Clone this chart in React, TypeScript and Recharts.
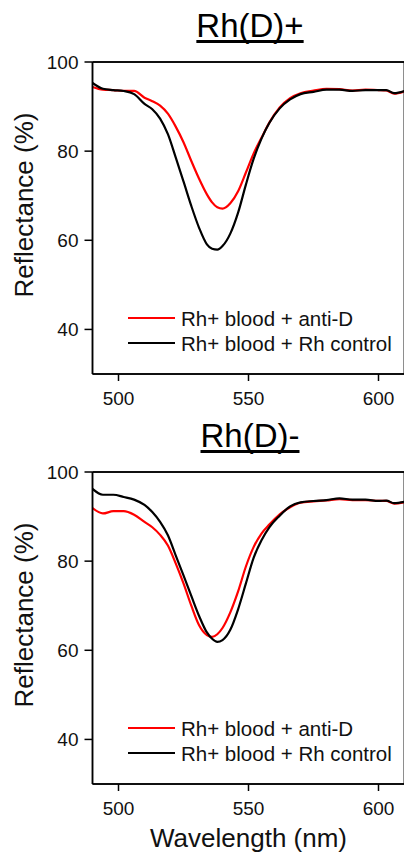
import React from "react"
import { LineChart, Line, XAxis, YAxis, Legend } from "recharts"

const FONT = '"Liberation Sans", Arial, sans-serif'

const wavelengths = [
  490, 494, 498, 502, 506, 510, 513, 516, 519, 522, 525, 528, 531, 534, 536,
  538, 540, 543, 546, 549, 552, 555, 558, 562, 566, 570, 575, 580, 585, 590,
  595, 600, 603, 606, 610,
]

// Rh(D)+ panel
const posAntiD = [
  94.4, 93.8, 93.7, 93.5, 93.5, 92.0, 91.2, 90.2, 88.4, 85.5, 82.0, 77.8, 73.8,
  70.3, 68.5, 67.4, 67.1, 68.3, 71.0, 75.2, 79.5, 83.0, 86.4, 89.8, 91.9, 93.0,
  93.6, 94.0, 93.9, 93.6, 93.8, 93.7, 93.6, 92.9, 93.4,
]
const posControl = [
  95.3, 94.0, 93.7, 93.5, 92.8, 90.6, 89.4, 87.3, 83.8, 78.6, 73.2, 67.7, 62.8,
  59.1, 58.1, 57.9, 58.7, 61.5, 66.2, 72.5, 78.3, 82.8, 86.3, 89.6, 91.6, 92.8,
  93.3, 93.8, 93.8, 93.5, 93.7, 93.7, 93.7, 93.0, 93.5,
]

// Rh(D)- panel
const negAntiD = [
  91.9, 90.7, 91.2, 91.2, 90.4, 88.8, 87.6, 85.9, 83.5, 79.5, 75.0, 70.0, 65.6,
  63.4, 63.0, 63.6, 65.0, 68.5, 73.2, 78.8, 83.2, 86.2, 88.2, 90.5, 92.1, 93.1,
  93.4, 93.6, 93.9, 93.7, 93.7, 93.5, 93.5, 92.9, 93.2,
]
const negControl = [
  96.2, 94.9, 94.9, 94.4, 93.8, 92.6, 91.0, 88.8, 85.8, 81.3, 76.8, 72.2, 67.7,
  64.0, 62.6, 61.9, 62.3, 64.6, 69.2, 75.0, 80.8, 84.7, 87.6, 90.2, 92.3, 93.2,
  93.5, 93.7, 94.1, 93.8, 93.8, 93.5, 93.6, 93.0, 93.3,
]

const seriesNames = ["Rh+ blood + anti-D", "Rh+ blood + Rh control"]
const xMajorTicks = [500, 550, 600]
const xMinorTicks = [490, 500, 510, 520, 530, 540, 550, 560, 570, 580, 590, 600, 610]
const yMajorTicks = [40, 60, 80, 100]
const yMinorTicks = [30, 40, 50, 60, 70, 80, 90, 100]

const X_DOMAIN: [number, number] = [490, 610]
const Y_DOMAIN: [number, number] = [30, 100]
const THIN = 0.001 // axes of zero size are not drawn

function buildRows(antiD: number[], control: number[]) {
  return wavelengths.map((wl, i) => ({ wl, antiD: antiD[i], control: control[i] }))
}

function LegendBox({ payload }: any) {
  const items = [...(payload || [])].sort(
    (a: any, b: any) => seriesNames.indexOf(a.value) - seriesNames.indexOf(b.value)
  )
  return (
    <div style={{ fontFamily: FONT, fontSize: 20.5, color: "#111" }}>
      {items.map((p: any) => (
        <div key={p.value} style={{ display: "flex", alignItems: "center", height: 25 }}>
          <div style={{ width: 47, height: 2, background: p.color, marginRight: 6 }} />
          <span style={{ lineHeight: "25px", whiteSpace: "nowrap" }}>{p.value}</span>
        </div>
      ))}
    </div>
  )
}

const axisLine = { stroke: "#000", strokeWidth: 1.5 }
const tickText = { fill: "#111", fontSize: 19, fontFamily: FONT }

function Panel({
  title,
  antiD,
  control,
  top,
  height,
  showXLabel,
}: {
  title: string
  antiD: number[]
  control: number[]
  top: number
  height: number
  showXLabel: boolean
}) {
  const rows = buildRows(antiD, control)
  return (
    <div style={{ position: "absolute", left: 0, top, width: 410, height }}>
      <div
        style={{
          position: "absolute",
          left: 0,
          top: 9,
          width: 500,
          textAlign: "center",
          fontFamily: FONT,
          fontSize: 33,
          lineHeight: "33px",
          color: "#000",
          textDecoration: "underline",
          textDecorationThickness: "3px",
          textUnderlineOffset: "3px",
          textDecorationSkipInk: "none",
        }}
      >
        {title}
      </div>
      <LineChart
        width={410}
        height={height}
        data={rows}
        margin={{ top: 62, left: 92.5, right: 5.5, bottom: height - 374 }}
      >
        <XAxis
          xAxisId="xMinor"
          dataKey="wl"
          type="number"
          domain={X_DOMAIN}
          allowDataOverflow
          ticks={xMinorTicks}
          interval={0}
          height={THIN}
          tick={false}
          tickSize={4}
          axisLine={axisLine}
          tickLine={axisLine}
        />
        <XAxis
          xAxisId="x"
          dataKey="wl"
          type="number"
          domain={X_DOMAIN}
          allowDataOverflow
          ticks={xMajorTicks}
          interval={0}
          height={THIN}
          tickSize={7}
          tickMargin={11}
          tick={tickText}
          axisLine={axisLine}
          tickLine={axisLine}
          label={
            showXLabel
              ? {
                  content: () => (
                    <text
                      x={248.5}
                      y={437}
                      textAnchor="middle"
                      fontFamily={FONT}
                      fontSize={26}
                      fill="#111"
                    >
                      Wavelength (nm)
                    </text>
                  ),
                }
              : undefined
          }
        />
        <XAxis
          xAxisId="topMinor"
          orientation="top"
          mirror
          dataKey="wl"
          type="number"
          domain={X_DOMAIN}
          allowDataOverflow
          ticks={xMinorTicks}
          interval={0}
          height={THIN}
          tick={false}
          tickSize={5}
          axisLine={axisLine}
          tickLine={axisLine}
        />
        <XAxis
          xAxisId="top"
          orientation="top"
          mirror
          dataKey="wl"
          type="number"
          domain={X_DOMAIN}
          allowDataOverflow
          ticks={xMajorTicks}
          interval={0}
          height={THIN}
          tick={false}
          tickSize={8}
          axisLine={axisLine}
          tickLine={axisLine}
        />
        <YAxis
          yAxisId="yMinor"
          type="number"
          domain={Y_DOMAIN}
          allowDataOverflow
          ticks={yMinorTicks}
          interval={0}
          width={THIN}
          tick={false}
          tickSize={5}
          axisLine={axisLine}
          tickLine={axisLine}
        />
        <YAxis
          yAxisId="y"
          type="number"
          domain={Y_DOMAIN}
          allowDataOverflow
          ticks={yMajorTicks}
          interval={0}
          width={THIN}
          tickSize={8}
          tickMargin={6}
          tick={tickText}
          axisLine={axisLine}
          tickLine={axisLine}
          label={{
            content: () => (
              <text
                x={33}
                y={205}
                transform="rotate(-90 33 205)"
                textAnchor="middle"
                fontFamily={FONT}
                fontSize={26}
                fill="#111"
              >
                Reflectance (%)
              </text>
            ),
          }}
        />
        <YAxis
          yAxisId="rightMinor"
          orientation="right"
          mirror
          type="number"
          domain={Y_DOMAIN}
          allowDataOverflow
          ticks={yMinorTicks}
          interval={0}
          width={THIN}
          tick={false}
          tickSize={4}
          axisLine={axisLine}
          tickLine={axisLine}
        />
        <YAxis
          yAxisId="right"
          orientation="right"
          mirror
          type="number"
          domain={Y_DOMAIN}
          allowDataOverflow
          ticks={yMajorTicks}
          interval={0}
          width={THIN}
          tick={false}
          tickSize={7}
          axisLine={axisLine}
          tickLine={axisLine}
        />
        <Line
          xAxisId="x"
          yAxisId="y"
          dataKey="antiD"
          name={seriesNames[0]}
          type="monotone"
          stroke="#ff0000"
          strokeWidth={2.2}
          dot={false}
          isAnimationActive={false}
        />
        <Line
          xAxisId="x"
          yAxisId="y"
          dataKey="control"
          name={seriesNames[1]}
          type="monotone"
          stroke="#000000"
          strokeWidth={2.2}
          dot={false}
          isAnimationActive={false}
        />
        <Legend
          layout="vertical"
          align="center"
          verticalAlign="middle"
          content={<LegendBox />}
          wrapperStyle={{ left: 128, top: 305.5, width: "auto", height: "auto" }}
        />
      </LineChart>
    </div>
  )
}

export default function App() {
  return (
    <div
      style={{
        position: "absolute",
        left: 0,
        top: 0,
        width: 404,
        height: 857,
        overflow: "hidden",
        background: "#fff",
      }}
    >
      <Panel title="Rh(D)+" antiD={posAntiD} control={posControl} top={0} height={410} showXLabel={false} />
      <Panel title="Rh(D)-" antiD={negAntiD} control={negControl} top={410} height={447} showXLabel />
    </div>
  )
}
